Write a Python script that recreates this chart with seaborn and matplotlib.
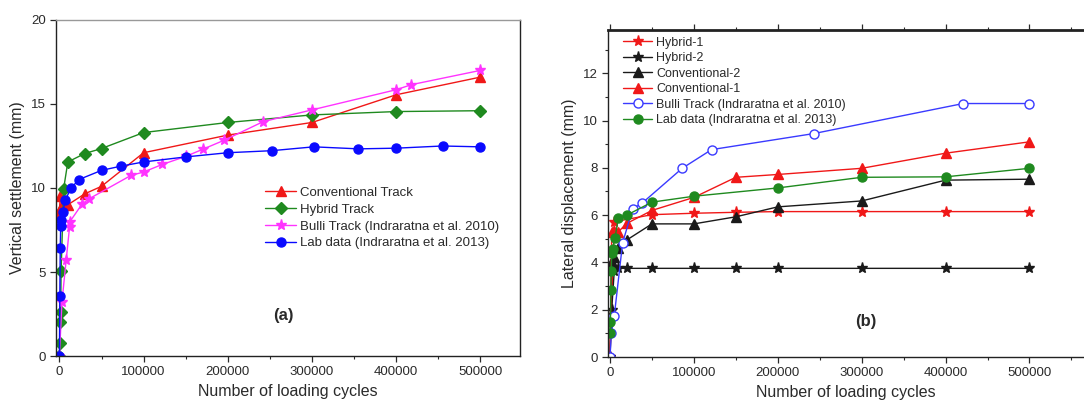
import matplotlib
matplotlib.use("Agg")
import matplotlib.pyplot as plt
from matplotlib.ticker import MultipleLocator
import pandas as pd
import seaborn as sns

# ---- panel (a): vertical settlement ----
conv_x = [0, 1000, 3000, 10000, 30000, 50000, 100000, 200000, 300000, 400000, 500000]
conv_y = [8.6, 9.5, 9.0, 9.0, 9.65, 10.1, 12.1, 13.15, 13.9, 15.55, 16.6]
hyb_x = [0, 500, 1000, 1500, 2000, 5000, 10000, 30000, 50000, 100000, 200000, 300000, 400000, 500000]
hyb_y = [0, 0.8, 2.0, 2.6, 5.05, 9.95, 11.55, 12.05, 12.35, 13.3, 13.9, 14.35, 14.55, 14.6]
bulli_x = [0, 3000, 8000, 12000, 12500, 27000, 35000, 85000, 100000, 122000, 150000, 170000,
           196000, 242000, 300000, 400000, 418000, 500000]
bulli_y = [0, 3.2, 5.7, 7.65, 8.0, 9.05, 9.35, 10.75, 10.95, 11.4, 11.88, 12.3,
           12.85, 13.95, 14.65, 15.85, 16.15, 17.0]
lab_x = [0, 500, 1000, 1500, 2000, 4000, 7000, 14000, 23000, 50000, 73000, 100000, 150000,
         200000, 252000, 302000, 355000, 400000, 455000, 500000]
lab_y = [0, 3.55, 6.4, 7.75, 8.1, 8.55, 9.3, 10.0, 10.5, 11.05, 11.3, 11.55, 11.85,
         12.1, 12.22, 12.45, 12.33, 12.37, 12.5, 12.45]

# ---- panel (b): lateral displacement ----
h1_x = [0, 5000, 50000, 100000, 150000, 200000, 300000, 400000, 500000]
h1_y = [0, 5.72, 6.02, 6.08, 6.12, 6.15, 6.15, 6.15, 6.15]
h2_x = [0, 2000, 5000, 10000, 20000, 50000, 100000, 150000, 200000, 300000, 400000, 500000]
h2_y = [0, 2.0, 3.62, 3.75, 3.75, 3.75, 3.75, 3.75, 3.75, 3.75, 3.75, 3.75]
c2_x = [0, 2000, 5000, 10000, 20000, 50000, 100000, 150000, 200000, 300000, 400000, 500000]
c2_y = [0, 4.0, 4.25, 4.6, 4.95, 5.63, 5.63, 5.93, 6.35, 6.6, 7.48, 7.52]
c1_x = [0, 2000, 5000, 10000, 20000, 50000, 100000, 150000, 200000, 300000, 400000, 500000]
c1_y = [0, 5.3, 5.35, 5.3, 5.65, 6.2, 6.75, 7.6, 7.72, 7.98, 8.62, 9.1]
bb_x = [0, 1500, 5000, 15000, 27000, 38000, 86000, 121000, 243000, 421000, 500000]
bb_y = [0, 1.0, 1.72, 4.83, 6.27, 6.5, 7.98, 8.77, 9.45, 10.72, 10.72]
lb_x = [0, 500, 1000, 1500, 2000, 3000, 6000, 10000, 20000, 50000, 100000, 200000, 300000, 400000, 500000]
lb_y = [1.0, 1.5, 2.85, 3.62, 4.4, 4.55, 5.05, 5.9, 6.0, 6.55, 6.8, 7.15, 7.6, 7.62, 7.98]

sns.set_style("ticks")
plt.rcParams["font.family"] = ["Liberation Sans", "DejaVu Sans"]

RED = "#f01818"
GREEN = "#1f8a1f"
MAGENTA = "#ff33ff"
BLUE = "#0a0aff"
LBLUE = "#3a3aff"
BLACK = "#1a1a1a"
TXT = "#2a2a2a"


def draw(ax, x, y, color, marker, label, ms=6.5, face=None):
    df = pd.DataFrame({"x": x, "y": y})
    sns.lineplot(data=df, x="x", y="y", ax=ax, color=color, marker=marker,
                 markersize=ms, markeredgecolor=color,
                 markerfacecolor=face if face else color, markeredgewidth=1.0,
                 linewidth=1.0, estimator=None, sort=False, label=label)


def style_axes(ax):
    ax.xaxis.set_major_locator(MultipleLocator(100000))
    ax.xaxis.set_minor_locator(MultipleLocator(50000))
    ax.tick_params(axis="both", which="major", length=4, width=0.9, labelsize=9.5,
                   labelcolor=TXT, color=TXT)
    ax.tick_params(axis="both", which="minor", length=2.5, width=0.8, color=TXT)
    ax.set_xlabel("Number of loading cycles", fontsize=11.5, color=TXT)
    for s in ax.spines.values():
        s.set_color("#222222")
        s.set_linewidth(1.0)


fig = plt.figure(figsize=(10.84, 4.03), dpi=100)

# panel (a)
ax1 = fig.add_axes([0.0517, 0.1166, 0.4280, 0.8338])
draw(ax1, conv_x, conv_y, RED, "^", "Conventional Track", ms=7)
draw(ax1, hyb_x, hyb_y, GREEN, "D", "Hybrid Track", ms=6)
draw(ax1, bulli_x, bulli_y, MAGENTA, "*", "Bulli Track (Indraratna et al. 2010)", ms=8)
draw(ax1, lab_x, lab_y, BLUE, "o", "Lab data (Indraratna et al. 2013)", ms=6.5)
ax1.set_xlim(-4000, 547000)
ax1.set_ylim(0, 20)
ax1.yaxis.set_major_locator(MultipleLocator(5))
style_axes(ax1)
ax1.set_ylabel("Vertical settlement (mm)", fontsize=11.5, color=TXT, labelpad=4)
ax1.spines["top"].set_color("#999999")
ax1.legend(loc="upper left", bbox_to_anchor=(0.44, 0.52), frameon=False, fontsize=9.5,
           handlelength=2.3, handletextpad=0.3, labelspacing=0.35, borderaxespad=0,
           labelcolor=TXT)
ax1.text(0.49, 0.12, "(a)", transform=ax1.transAxes, fontsize=12, fontweight="bold",
         color=TXT, ha="center", va="center")

# panel (b)
ax2 = fig.add_axes([0.5609, 0.1141, 0.4391, 0.8115])
draw(ax2, h1_x, h1_y, RED, "*", "Hybrid-1", ms=8)
draw(ax2, h2_x, h2_y, BLACK, "*", "Hybrid-2", ms=8)
draw(ax2, c2_x, c2_y, BLACK, "^", "Conventional-2", ms=7)
draw(ax2, c1_x, c1_y, RED, "^", "Conventional-1", ms=7)
draw(ax2, bb_x, bb_y, LBLUE, "o", "Bulli Track (Indraratna et al. 2010)", ms=6.5, face="white")
draw(ax2, lb_x, lb_y, GREEN, "o", "Lab data (Indraratna et al. 2013)", ms=6.5)
ax2.set_xlim(-2400, 565000)
ax2.set_ylim(0, 13.83)
ax2.yaxis.set_major_locator(MultipleLocator(2))
ax2.yaxis.set_minor_locator(MultipleLocator(1))
style_axes(ax2)
ax2.set_ylabel("Lateral displacement (mm)", fontsize=11.5, color=TXT, labelpad=4)
ax2.spines["right"].set_visible(False)
ax2.spines["top"].set_linewidth(2.0)
ax2.tick_params(top=True, which="both", direction="out")
ax2.legend(loc="upper left", bbox_to_anchor=(0.022, 0.995), frameon=False, fontsize=9,
           handlelength=2.3, handletextpad=0.3, labelspacing=0.28, borderaxespad=0,
           labelcolor=TXT)
ax2.text(0.542, 0.11, "(b)", transform=ax2.transAxes, fontsize=12, fontweight="bold",
         color=TXT, ha="center", va="center")

fig.savefig("out.png", dpi=100)
